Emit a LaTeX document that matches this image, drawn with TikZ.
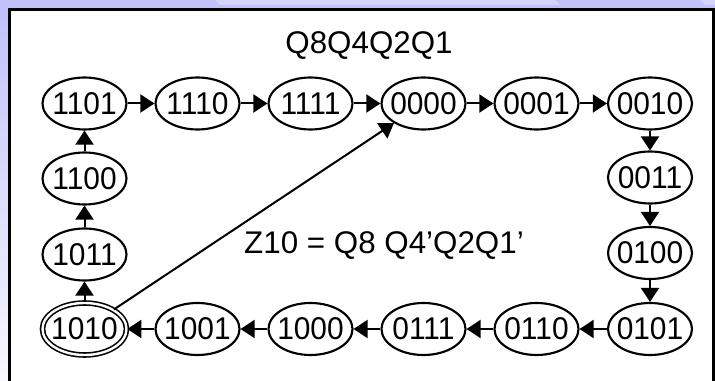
\documentclass[tikz,border=0pt]{standalone}
\usepackage{fontspec}
\setmainfont{Liberation Sans}
\newfontfamily\nodefont[FakeStretch=0.95]{Liberation Sans}
\usetikzlibrary{arrows.meta,shapes.geometric}
\definecolor{lav}{RGB}{194,194,250}
\definecolor{lavpale}{RGB}{248,248,255}
\tikzset{
  st/.style={shape=ellipse, draw, line width=1.6pt, minimum width=63pt, minimum height=39pt,
    inner sep=0pt, font=\nodefont\fontsize{23.6}{28}\selectfont},
  dst/.style={st, double, line width=1.2pt, double distance=1.8pt},
  arr/.style={line width=1.5pt, -{Triangle[length=10.5pt,width=13.5pt]}},
  lbl/.style={font=\fontsize{23.5}{28}\selectfont, inner sep=0pt}
}
\newcommand{\zb}[1]{\makebox[0pt]{#1}}
\begin{document}
\begin{tikzpicture}[x=0.75pt,y=-0.75pt]
\useasboundingbox (0,0) rectangle (715,381);
% background
\fill[lav] (0,0) rectangle (715,381);
\shade[top color=lav, bottom color=lavpale] (0,10) rectangle (9.5,381);
\fill[white!30!lav] (215,0) -- (555,0) -- (560,5) -- (220,5) -- cycle;
\fill[white!30!lav] (700,0) -- (840,0) -- (845,5) -- (705,5) -- cycle;
% frame
\filldraw[fill=white, draw=black, line width=2.25pt] (9.5,10) rectangle (713,420);
% title
\node[lbl] (title) at (369,45.5) {Q8Q4Q2Q1};
\node[lbl] (eq) at (384,246) {Z10 = Q8 Q4’Q2Q1’};
% top row
\node[st] (n1101) at (84.5,103.5) {\zb{1101}};
\node[st] (n1110) at (197.5,103.5) {\zb{1110}};
\node[st] (n1111) at (310.5,103.5) {\zb{1111}};
\node[st] (n0000) at (423.5,103.5) {\zb{0000}};
\node[st] (n0001) at (536.5,103.5) {\zb{0001}};
\node[st] (n0010) at (650,103.5) {\zb{0010}};
% right column
\node[st] (n0011) at (650,177.5) {\zb{0011}};
\node[st] (n0100) at (650,253) {\zb{0100}};
% bottom row
\node[st] (n0101) at (650,329) {\zb{0101}};
\node[st] (n0110) at (536.5,329) {\zb{0110}};
\node[st] (n0111) at (423.5,329) {\zb{0111}};
\node[st] (n1000) at (310.5,329) {\zb{1000}};
\node[st] (n1001) at (197.5,329) {\zb{1001}};
\node[dst] (n1010) at (84.5,329) {\zb{1010}};
% left column
\node[st] (n1011) at (84.5,254.5) {\zb{1011}};
\node[st] (n1100) at (84.5,178.5) {\zb{1100}};
% arrows
\draw[arr] (n1101) -- (n1110);
\draw[arr] (n1110) -- (n1111);
\draw[arr] (n1111) -- (n0000);
\draw[arr] (n0000) -- (n0001);
\draw[arr] (n0001) -- (n0010);
\draw[arr] (n0010) -- (n0011);
\draw[arr] (n0011) -- (n0100);
\draw[arr] (n0100) -- (n0101);
\draw[arr] (n0101) -- (n0110);
\draw[arr] (n0110) -- (n0111);
\draw[arr] (n0111) -- (n1000);
\draw[arr] (n1000) -- (n1001);
\draw[arr] (n1001) -- (n1010);
\draw[arr] (n1010) -- (n1011);
\draw[arr] (n1011) -- (n1100);
\draw[arr] (n1100) -- (n1101);
\draw[arr] (n1010) -- (n0000);
\end{tikzpicture}
\end{document}
